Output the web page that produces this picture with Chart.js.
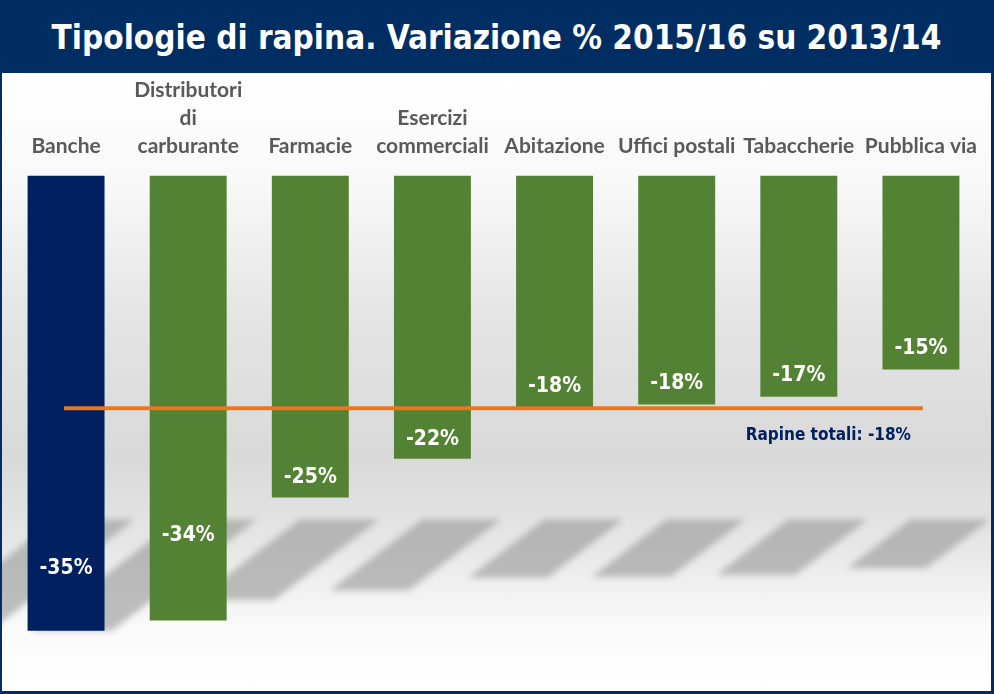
<!DOCTYPE html>
<html>
<head>
<meta charset="utf-8">
<script src="https://cdn.jsdelivr.net/npm/chart.js@4.4.1/dist/chart.umd.min.js"></script>
<style>
    html, body { margin: 0; padding: 0; background: #fff; }
    #frame {
        width: 994px; height: 694px; box-sizing: border-box;
        border: 2px solid #002D62; border-right-width: 3px; border-bottom-width: 3px;
        display: flex; flex-direction: column;
    }
    #title {
        height: 71px; background: #002D62; color: #fff;
        font-family: "DejaVu Sans Condensed", "DejaVu Sans", sans-serif;
        font-weight: bold; font-size: 33px;
        display: flex; align-items: center; justify-content: center;
    }
    #plot {
        position: relative; flex: 1;
        background: linear-gradient(to bottom, #ffffff 0%, #f8f8f8 18%, #e4e4e4 40%, #d9d9d9 62%, #e6e6e6 76%, #fafafa 90%, #ffffff 100%);
    }
</style>
</head>
<body>
<div id="frame">
    <div id="title">Tipologie di rapina. Variazione % 2015/16 su 2013/14</div>
    <div id="plot"><canvas id="chart"></canvas></div>
</div>
<script>
const categories = [
    'Banche',
    ['Distributori', 'di', 'carburante'],
    'Farmacie',
    ['Esercizi', 'commerciali'],
    'Abitazione',
    'Uffici postali',
    'Tabaccherie',
    'Pubblica via'
];
const variazione = [-35.2, -34.4, -24.9, -21.9, -18.0, -17.7, -17.1, -15.0];
const rapineTotali = -18;
const totaleLabel = 'Rapine totali';

const barColors = ['#002060', '#548235', '#548235', '#548235', '#548235', '#548235', '#548235', '#548235'];
// distance of the value label above the bar end
const labelLift = [62, 85, 20, 19, 22, 21, 21, 21];

// soft slanted "floor" shadows behind the bars
const barShadows = {
    id: 'barShadows',
    beforeDatasetsDraw(chart) {
        const ctx = chart.ctx;
        const yScale = chart.scales.y;
        const top = yScale.getPixelForValue(-26.6);
        const bars = chart.getDatasetMeta(1).data;
        ctx.save();
        ctx.filter = 'blur(3px)';
        ctx.fillStyle = 'rgba(150,150,150,0.6)';
        bars.forEach((bar) => {
            const w = bar.width;
            const len = Math.abs(bar.base - bar.y);
            const h = len * 0.25;
            const dx = h * 1.3;
            const x0 = bar.x - w / 2 + 28;
            const x1 = bar.x + w / 2 + 30;
            ctx.beginPath();
            ctx.moveTo(x0, top);
            ctx.lineTo(x1, top);
            ctx.lineTo(x1 - dx, top + h);
            ctx.lineTo(x0 - dx, top + h);
            ctx.closePath();
            ctx.fill();
        });
        ctx.restore();
    }
};

const valueLabels = {
    id: 'valueLabels',
    afterDatasetsDraw(chart) {
        const ctx = chart.ctx;
        const bars = chart.getDatasetMeta(1).data;
        ctx.save();
        ctx.fillStyle = '#ffffff';
        ctx.font = 'bold 21px "DejaVu Sans Condensed", "DejaVu Sans", sans-serif';
        ctx.textAlign = 'center';
        ctx.textBaseline = 'middle';
        bars.forEach((bar, i) => {
            ctx.fillText(Math.round(variazione[i]) + '%', bar.x, bar.y - labelLift[i]);
        });

        const pts = chart.getDatasetMeta(0).data;
        const last = pts[pts.length - 1];
        ctx.fillStyle = '#002060';
        ctx.font = 'bold 17px "DejaVu Sans Condensed", "DejaVu Sans", sans-serif';
        ctx.textAlign = 'right';
        ctx.fillText(totaleLabel + ': ' + rapineTotali + '%', last.x - 10, last.y + 27);
        ctx.restore();
    }
};

const ctx = document.getElementById('chart').getContext('2d');

new Chart(ctx, {
    data: {
        labels: categories,
        datasets: [
            {
                type: 'line',
                data: categories.map(() => rapineTotali),
                borderColor: '#E87722',
                borderWidth: 4,
                borderCapStyle: 'square',
                pointRadius: 0,
                order: 0
            },
            {
                type: 'bar',
                data: variazione,
                backgroundColor: barColors,
                barPercentage: 0.63,
                categoryPercentage: 1,
                order: 1
            }
        ]
    },
    options: {
        responsive: true,
        maintainAspectRatio: false,
        animation: false,
        layout: {
            padding: { left: 3, right: 9, top: -4, bottom: 24 }
        },
        scales: {
            x: {
                position: 'top',
                grid: { display: false },
                border: { display: false },
                ticks: {
                    color: '#595959',
                    padding: 7,
                    maxRotation: 0,
                    autoSkip: false,
                    font: { family: 'Lato, "Open Sans", sans-serif', size: 21, weight: 'bold', lineHeight: 1.34 }
                }
            },
            y: {
                display: false,
                min: -38,
                max: 0
            }
        },
        plugins: {
            legend: { display: false },
            tooltip: { enabled: false }
        }
    },
    plugins: [barShadows, valueLabels]
});
</script>
</body>
</html>
